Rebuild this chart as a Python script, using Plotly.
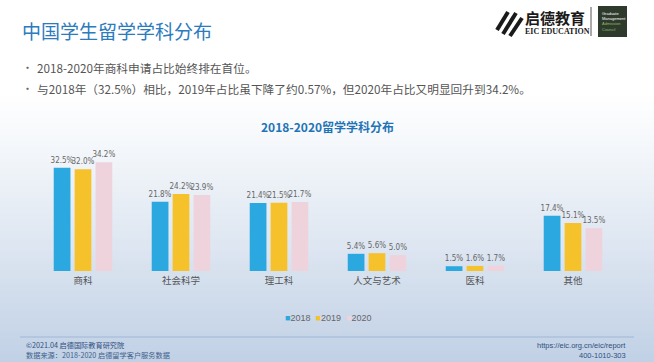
import plotly.graph_objects as go

categories = ["商科", "社会科学", "理工科", "人文与艺术", "医科", "其他"]
years = ["2018", "2019", "2020"]
v2018 = [32.5, 21.8, 21.4, 5.4, 1.5, 17.4]
v2019 = [32.0, 24.2, 21.5, 5.6, 1.6, 15.1]
v2020 = [34.2, 23.9, 21.7, 5.0, 1.7, 13.5]
series = [v2018, v2019, v2020]
colors = ["#2aa8df", "#f5c22c", "#efd3dc"]

W, H = 654, 362
def py(y):  # pixel y (from top) -> paper
    return 1 - y / H
def px(x):
    return x / W

fig = go.Figure()
for name, vals, c in zip(years, series, colors):
    fig.add_trace(go.Bar(
        x=categories, y=vals, name=name, marker=dict(color=c, line=dict(width=0)),
        text=vals, texttemplate="%{y:.1f}%", textposition="outside", constraintext="none",
        textfont=dict(size=8, color="#666666", family="DejaVu Sans Condensed, Liberation Sans"),
        cliponaxis=False, hoverinfo="skip", showlegend=False,
    ))

# background gradient bands
shapes = []
def lerp(a, b, t):
    return int(round(a + (b - a) * t))
top_c = (255, 255, 255)
bot_c = (192, 208, 229)
step = 3
for y0 in range(0, H, step):
    if y0 < 90:
        c = top_c
    else:
        t = (y0 - 90) / (H - 90)
        t = t ** 1.1
        c = tuple(lerp(top_c[i], bot_c[i], t) for i in range(3))
    shapes.append(dict(type="rect", xref="paper", yref="paper", layer="below",
                       x0=0, x1=1, y0=py(y0 + step + 0.5), y1=py(y0),
                       fillcolor="rgb(%d,%d,%d)" % c, line=dict(width=0)))
# footer line
shapes.append(dict(type="line", xref="paper", yref="paper", x0=px(20), x1=px(634),
                   y0=py(337), y1=py(337), line=dict(color="#9fb6d6", width=1)))
# logo divider
shapes.append(dict(type="line", xref="paper", yref="paper", x0=px(591), x1=px(591),
                   y0=py(7), y1=py(36), line=dict(color="#555555", width=1)))
# GMAC box
shapes.append(dict(type="rect", xref="paper", yref="paper", x0=px(598), x1=px(627),
                   y0=py(37), y1=py(6), fillcolor="#2e3a2c", line=dict(width=0)))
# logo icon stripes
for i, (xa, ya, xb, yb) in enumerate([(497, 30, 508, 12), (503, 34, 516, 13), (510, 36, 522, 18)]):
    shapes.append(dict(type="line", xref="paper", yref="paper", x0=px(xa), y0=py(ya),
                       x1=px(xb), y1=py(yb), line=dict(color="#1a1a1a", width=4)))

legend_text = "&nbsp;&nbsp;".join(
    "<span style='color:%s'>■</span>%s" % (c, y) for y, c in zip(years, colors))

annotations = [
    dict(text="中国学生留学学科分布", x=px(20), y=py(30), xanchor="left", yanchor="middle",
         font=dict(size=19, color="#2b7bbd", family="Noto Sans CJK SC")),
    dict(text="•", x=px(20), y=py(67), xanchor="left", yanchor="middle",
         font=dict(size=11, color="#666666", family="Noto Sans CJK SC")),
    dict(text="2018-2020年商科申请占比始终排在首位。", x=px(35), y=py(67), xanchor="left", yanchor="middle",
         font=dict(size=11.7, color="#555555", family="Noto Sans CJK SC")),
    dict(text="•", x=px(20), y=py(88), xanchor="left", yanchor="middle",
         font=dict(size=11, color="#666666", family="Noto Sans CJK SC")),
    dict(text="与2018年（32.5%）相比，2019年占比虽下降了约0.57%，但2020年占比又明显回升到34.2%。",
         x=px(35), y=py(88), xanchor="left", yanchor="middle",
         font=dict(size=11.7, color="#555555", family="Noto Sans CJK SC")),
    dict(text="<b>2018-2020留学学科分布</b>", x=px(327), y=py(126), xanchor="center", yanchor="middle",
         font=dict(size=12, color="#1f74b5", family="Noto Sans CJK SC")),
    dict(text="<b>启德教育</b>", x=px(523), y=py(17), xanchor="left", yanchor="middle",
         font=dict(size=15, color="#1a1a1a", family="Noto Sans CJK SC")),
    dict(text="<b>EIC EDUCATION</b>", x=px(523), y=py(31), xanchor="left", yanchor="middle",
         font=dict(size=8, color="#1a1a1a", family="Liberation Serif")),
    dict(text="Graduate<br>Management<br><span style='color:#8fbf6a'>Admission<br>Council</span>",
         x=px(600), y=py(9), xanchor="left", yanchor="top", align="left",
         font=dict(size=4, color="#ffffff", family="Liberation Sans")),
    dict(text=legend_text, x=px(328), y=py(318), xanchor="center", yanchor="middle",
         font=dict(size=9, color="#666666", family="Liberation Sans")),
    dict(text="©2021.04 启德国际教育研究院", x=px(24), y=py(345), xanchor="left", yanchor="middle",
         font=dict(size=7.2, color="#2f4f80", family="Noto Sans CJK SC")),
    dict(text="数据来源：2018-2020 启德留学客户服务数据", x=px(24), y=py(355), xanchor="left", yanchor="middle",
         font=dict(size=7.2, color="#3f5f8a", family="Noto Sans CJK SC")),
    dict(text="https://eic.org.cn/eic/report", x=px(628), y=py(345), xanchor="right", yanchor="middle",
         font=dict(size=7.5, color="#2f4f80", family="Liberation Sans")),
    dict(text="400-1010-303", x=px(628), y=py(355), xanchor="right", yanchor="middle",
         font=dict(size=7.5, color="#2f4f80", family="Liberation Sans")),
]
for a in annotations:
    a.update(xref="paper", yref="paper", showarrow=False)

fig.update_layout(
    width=W, height=H, margin=dict(l=0, r=0, t=0, b=0),
    paper_bgcolor="rgba(0,0,0,0)", plot_bgcolor="rgba(0,0,0,0)",
    barmode="group", bargap=0.36, bargroupgap=0.2,
    shapes=shapes, annotations=annotations,
    xaxis=dict(domain=[px(34), px(622)], showgrid=False, zeroline=False, showline=False,
               ticks="", tickfont=dict(size=9.5, color="#555555", family="Noto Sans CJK SC"),
               ticklabelstandoff=2),
    yaxis=dict(domain=[py(271), py(140)], range=[0, 131 / 3.18], visible=False),
    showlegend=False,
    font=dict(family="Noto Sans CJK SC"),
)

fig.write_html("out.html", config={"displayModeBar": False},
               post_script="document.body.style.margin='0';document.body.style.overflow='hidden';")
